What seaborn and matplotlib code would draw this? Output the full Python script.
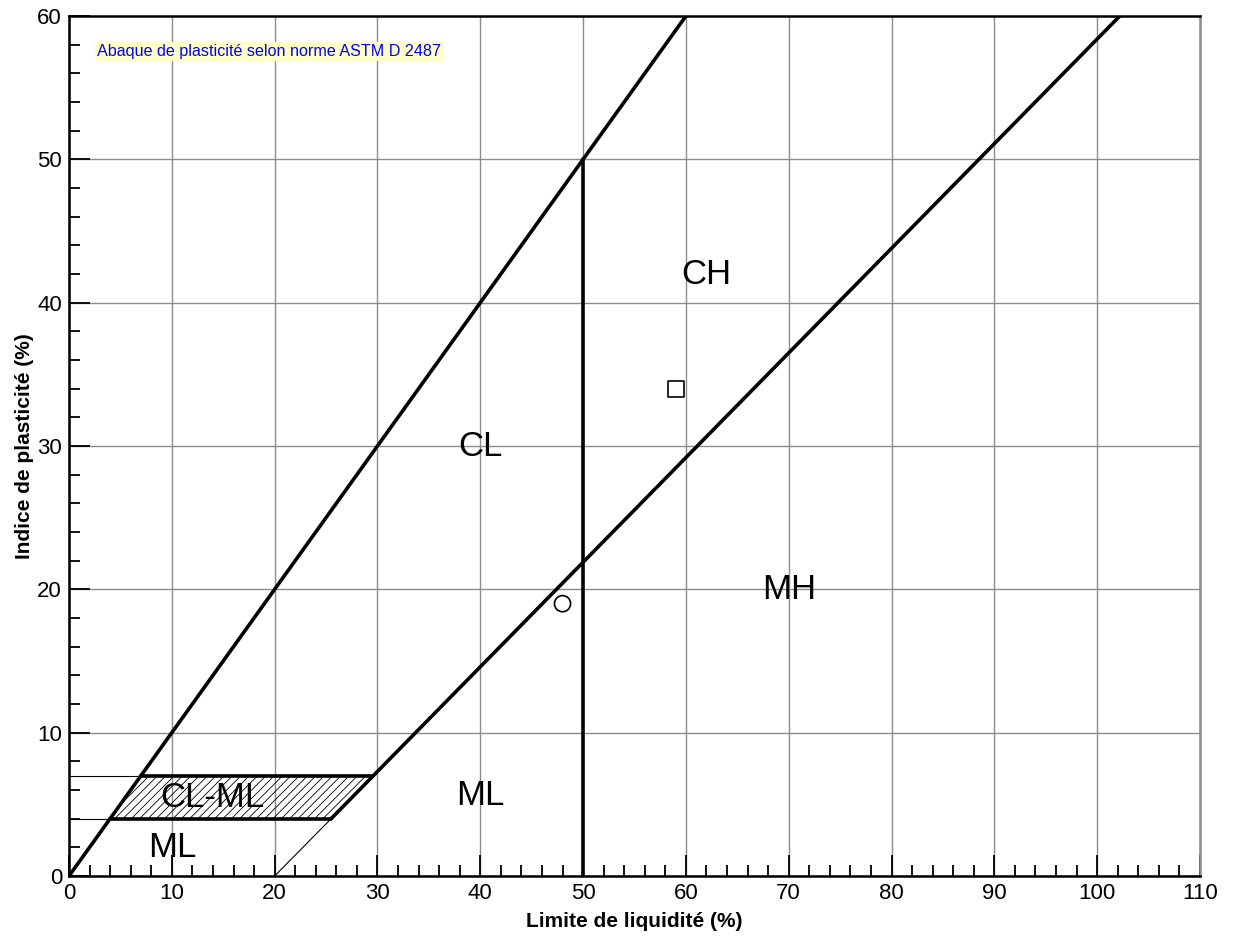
import matplotlib
matplotlib.use("Agg")
import matplotlib.pyplot as plt
import seaborn as sns
import pandas as pd
from matplotlib.ticker import MultipleLocator

sns.set_theme(style="white")
plt.rcParams['font.family'] = ['Liberation Sans', 'DejaVu Sans']
plt.rcParams['hatch.linewidth'] = 0.6

# ---- data ----
u_line_x = [0, 60]
u_line_y = [0, 60]
a_line_thin_x = [20, 25.5]
a_line_thin_y = [0, 4]
a_line_x = [25.5, 29.6, 102.2]
a_line_y = [4, 7, 60]
vert_x = [50, 50]
vert_y = [0, 50]
clml_x = [4, 7, 29.6, 25.5]
clml_y = [4, 7, 7, 4]
low_thin_x = [0, 4]
low_thin_y = [4, 4]
up_thin_x = [0, 7]
up_thin_y = [7, 7]

zone_labels = ["CH", "CL", "MH", "ML", "CL-ML", "ML"]
zone_x = [62, 40, 70, 40, 13.9, 10]
zone_y = [42, 30, 20, 5.6, 5.5, 2]

samples = pd.DataFrame({
    "LL": [48, 59],
    "PI": [19, 34],
    "sample": ["A", "B"],
})

x_ticks = list(range(0, 111, 10))
y_ticks = list(range(0, 61, 10))

# ---- figure ----
fig = plt.figure(figsize=(12.35, 9.36), dpi=100)
ax = fig.add_axes([69/1235, 1-876/936, 1131/1235, 860/936])

ax.set_xlim(0, 110)
ax.set_ylim(0, 60)
ax.set_xticks(x_ticks)
ax.set_yticks(y_ticks)
ax.xaxis.set_minor_locator(MultipleLocator(2))
ax.yaxis.set_minor_locator(MultipleLocator(2))
ax.grid(True, which='major', color='#8c8c8c', linewidth=1.0)
ax.set_axisbelow(True)

ax.tick_params(axis='both', which='both', bottom=True, left=True, top=False, right=False)
ax.tick_params(axis='both', which='major', direction='in', length=15, width=1.3,
               color='black', labelcolor='black', labelsize=16, pad=5)
ax.tick_params(axis='both', which='minor', direction='in', length=8, width=1.3, color='black')

for s in ['left', 'bottom', 'top']:
    ax.spines[s].set_color('black')
    ax.spines[s].set_linewidth(1.8)
ax.spines['right'].set_color('#8c8c8c')
ax.spines['right'].set_linewidth(1.8)

# hatched CL-ML zone
ax.fill(clml_x, clml_y, facecolor='none', edgecolor='black', hatch='////', linewidth=0, zorder=2)

thick = 2.6
thin = 0.8
ax.plot(u_line_x, u_line_y, color='black', linewidth=thick, zorder=4)
ax.plot(a_line_x, a_line_y, color='black', linewidth=thick, zorder=4)
ax.plot(a_line_thin_x, a_line_thin_y, color='black', linewidth=thin, zorder=4)
ax.plot(vert_x, vert_y, color='black', linewidth=thick, zorder=4)
ax.plot([clml_x[0], clml_x[3]], [clml_y[0], clml_y[3]], color='black', linewidth=thick, zorder=4)
ax.plot([clml_x[1], clml_x[2]], [clml_y[1], clml_y[2]], color='black', linewidth=thick, zorder=4)
ax.plot(low_thin_x, low_thin_y, color='black', linewidth=thin, zorder=4)
ax.plot(up_thin_x, up_thin_y, color='black', linewidth=thin, zorder=4)

# sample points
sns.scatterplot(data=samples, x="LL", y="PI", style="sample",
                markers={"A": "o", "B": "s"}, s=135, facecolor='none',
                edgecolor='black', linewidth=1.2, legend=False, ax=ax, zorder=5)

for lab, x, y in zip(zone_labels, zone_x, zone_y):
    ax.text(x, y, lab, fontsize=25, ha='center', va='center', color='black', zorder=6)

ax.text(2.7, 57.5, "Abaque de plasticité selon norme ASTM D 2487", fontsize=11.6,
        color='#0000ff', ha='left', va='center', zorder=6,
        bbox=dict(facecolor='#ffffc8', edgecolor='none', pad=1.5))

ax.set_xlabel("Limite de liquidité (%)", fontsize=15, fontweight='bold', color='black', labelpad=6)
ax.set_ylabel("Indice de plasticité (%)", fontsize=15, fontweight='bold', color='black', labelpad=2)

fig.savefig("out.png", dpi=100)
